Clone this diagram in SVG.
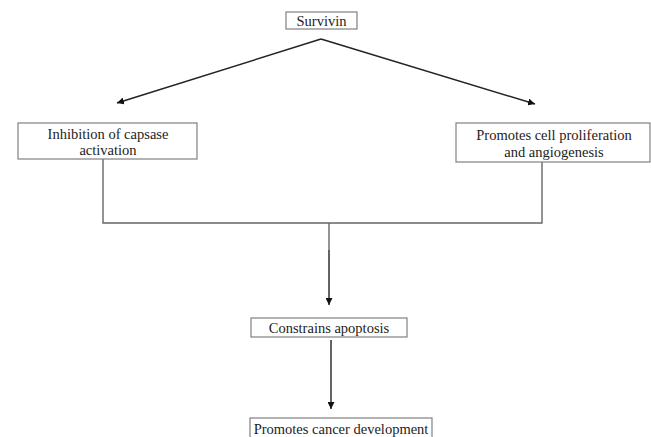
<svg xmlns="http://www.w3.org/2000/svg" width="651" height="437" viewBox="0 0 651 437">
<style>
.box{fill:#fff;stroke:#808080;stroke-width:1.2}
.t{font-family:"Liberation Serif","Times New Roman","DejaVu Serif",serif;font-size:14.5px;fill:#222;text-anchor:middle}
.c{fill:none;stroke:#222;stroke-width:1.4}
.g{fill:none;stroke:#666;stroke-width:1.4}
</style>
<defs>
<marker id="ah" viewBox="0 0 10 10" refX="10" refY="5" markerWidth="7" markerHeight="7" markerUnits="userSpaceOnUse" orient="auto">
<path d="M0,0 L10,5 L0,10 z" fill="#111"/>
</marker>
</defs>
<rect width="651" height="437" fill="#fff"/>
<g id="connectors">
<path class="c" d="M321,39 L117,103" marker-end="url(#ah)"/>
<path class="c" d="M321,39 L535,104" marker-end="url(#ah)"/>
<path class="g" d="M103,159 V223 H542 V162"/>
<path class="g" d="M329,223 V250"/>
<path class="c" d="M329,250 V305" marker-end="url(#ah)"/>
<path class="c" d="M331,340 V409" marker-end="url(#ah)"/>
</g>
<g id="survivin">
<rect class="box" x="286" y="12" width="71" height="17"/>
<text class="t" x="321.5" y="25.5">Survivin</text>
</g>
<g id="inhibition">
<rect class="box" x="18" y="123" width="179" height="36"/>
<text class="t" x="108" y="138.5">Inhibition of capsase</text>
<text class="t" x="108" y="154.5">activation</text>
</g>
<g id="promotes-proliferation">
<rect class="box" x="456" y="123" width="194" height="39"/>
<text class="t" x="554" y="140">Promotes cell proliferation</text>
<text class="t" x="554" y="157">and angiogenesis</text>
</g>
<g id="constrains">
<rect class="box" x="251" y="318" width="156" height="19"/>
<text class="t" x="329" y="332.5">Constrains apoptosis</text>
</g>
<g id="cancer">
<rect class="box" x="250" y="418" width="182" height="22"/>
<text class="t" x="341" y="433.5">Promotes cancer development</text>
</g>
</svg>
